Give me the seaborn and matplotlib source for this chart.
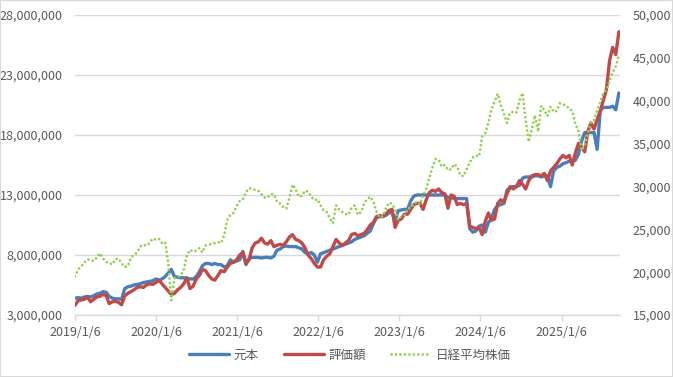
import numpy as np
import pandas as pd
import seaborn as sns
import matplotlib.pyplot as plt
from matplotlib.lines import Line2D
from matplotlib.patches import Rectangle

# 隔週データ (2019/1/6 から 14日おき)
# 元本・評価額は百万円単位
principal = [4.4, 4.45, 4.4, 4.5, 4.55, 4.5, 4.6, 4.75, 4.8, 4.95, 4.9, 4.55, 4.4, 4.35, 4.35, 4.3, 5.2, 5.35, 5.4, 5.5, 5.55, 5.6, 5.7, 5.75, 5.8, 5.85,
             6.0, 5.9, 6.0, 6.2, 6.5, 6.8, 6.2, 6.15, 6.1, 6.1, 6.05, 6.0, 6.0, 6.2, 6.6, 7.1, 7.3, 7.3, 7.2, 7.3, 7.2, 7.2, 7.0, 7.1, 7.6, 7.4,
             7.5, 7.6, 8.3, 7.2, 7.7, 7.8, 7.8, 7.8, 7.75, 7.8, 7.8, 7.75, 7.9, 8.4, 8.5, 8.7, 8.75, 8.7, 8.7, 8.7, 8.6, 8.5, 8.2, 8.1, 8.2, 8.0,
             7.4, 8.1, 8.2, 8.3, 8.4, 8.5, 8.6, 8.7, 8.8, 8.9, 9.0, 9.1, 9.3, 9.4, 9.5, 9.6, 9.8, 10.0, 10.6, 11.1, 11.2, 11.2, 11.3, 11.5, 11.6, 10.8,
             11.7, 11.75, 11.8, 11.8, 12.5, 12.9, 13.0, 13.0, 13.0, 13.0, 13.0, 13.0, 13.0, 13.0, 13.0, 13.0, 12.8, 12.8, 12.7, 12.7, 12.7, 12.7, 12.7, 10.2, 9.9, 10.0,
             10.4, 10.5, 9.9, 10.7, 11.0, 11.8, 12.1, 12.2, 12.3, 13.4, 13.6, 13.7, 13.7, 13.8, 14.4, 14.5, 14.5, 14.5, 14.6, 14.6, 14.5, 14.6, 14.6, 13.7, 15.0, 15.3,
             15.4, 15.6, 15.7, 15.8, 15.8, 15.9, 16.4, 17.5, 18.2, 18.2, 18.2, 18.2, 16.8, 20.0, 20.3, 20.3, 20.3, 20.4, 20.1, 21.5]

valuation = [3.8, 4.2, 4.25, 4.3, 4.5, 4.1, 4.3, 4.5, 4.55, 4.7, 4.65, 3.95, 4.1, 4.15, 4.05, 3.85, 4.6, 4.8, 4.95, 5.1, 5.3, 5.35, 5.3, 5.5, 5.6, 5.55,
             5.7, 5.9, 5.6, 5.3, 5.0, 4.7, 4.8, 5.1, 5.3, 5.6, 6.1, 5.2, 5.4, 6.0, 6.3, 6.8, 6.7, 6.3, 6.0, 5.9, 6.3, 6.7, 6.6, 7.0, 7.3, 7.4,
             7.6, 8.0, 8.2, 7.3, 7.6, 8.6, 9.0, 9.1, 9.4, 9.0, 8.9, 9.2, 8.7, 8.8, 8.9, 8.8, 9.1, 9.5, 9.7, 9.3, 9.2, 9.0, 8.6, 8.0, 7.7, 7.3,
             7.0, 7.0, 7.6, 7.9, 8.1, 8.7, 9.3, 9.0, 8.8, 9.0, 9.2, 9.7, 9.8, 9.6, 9.7, 9.8, 10.1, 10.5, 10.7, 11.2, 11.3, 11.2, 11.4, 11.7, 11.8, 10.3,
             10.9, 11.0, 11.4, 11.4, 11.8, 12.2, 12.3, 12.3, 11.8, 12.6, 13.2, 13.4, 13.3, 13.5, 13.2, 13.1, 11.9, 13.0, 12.9, 12.2, 12.3, 12.2, 12.3, 10.4, 10.3, 10.2,
             10.3, 9.7, 10.8, 11.5, 10.9, 11.0, 12.3, 12.6, 12.4, 13.1, 13.7, 13.5, 13.7, 14.2, 13.9, 13.5, 14.2, 14.6, 14.7, 14.7, 14.6, 14.8, 14.2, 15.0, 15.3, 15.6,
             16.0, 16.3, 16.1, 16.3, 15.5, 16.5, 17.3, 17.0, 16.6, 18.3, 19.0, 18.5, 19.3, 20.0, 20.9, 21.8, 24.2, 25.3, 24.7, 26.6]

nikkei = [19500, 20300, 20700, 21100, 21500, 21400, 21300, 21700, 22200, 21600, 21200, 21100, 20900, 21500, 21600, 21000, 20600, 20700, 21700, 22000, 22300, 23000, 23200, 23100, 23400, 23900,
          23800, 23900, 23400, 23500, 21100, 16700, 19300, 19400, 19600, 20300, 22000, 22600, 22400, 22500, 22800, 22300, 23100, 23200, 23300, 23400, 23500, 23400, 24300, 26100, 26700, 26900,
          27700, 28300, 28500, 29300, 29800, 29700, 29600, 29500, 29100, 28700, 28700, 29100, 29100, 28200, 28000, 27600, 27400, 28700, 30200, 29700, 28800, 28900, 29500, 29400, 28800, 28400,
          28500, 27800, 27200, 27000, 26300, 25700, 27800, 27300, 27000, 26800, 26700, 27500, 27800, 26700, 27000, 28000, 28500, 28800, 28200, 27100, 26400, 26500, 27400, 28100, 28000, 27300,
          26100, 26500, 26600, 27400, 27500, 28000, 28200, 27900, 29000, 29700, 31000, 32200, 33200, 33100, 32300, 32500, 31900, 32000, 32600, 32300, 31300, 31200, 32000, 32800, 33400, 33600,
          33500, 35800, 36200, 37400, 39000, 39900, 40800, 39500, 38500, 37400, 38600, 38700, 38600, 40000, 40900, 37800, 35200, 36700, 38300, 36400, 39400, 38900, 38200, 39300, 38700, 38800,
          39700, 39600, 39400, 39100, 38800, 37300, 36500, 34200, 34800, 36200, 37500, 37700, 38900, 39800, 40900, 41300, 42300, 43300, 44000, 45300]

tick_labels = ["2019/1/6", "2020/1/6", "2021/1/6", "2022/1/6", "2023/1/6", "2024/1/6", "2025/1/6"]
series_names = ["元本", "評価額", "日経平均株価"]

dates = pd.date_range("2019-01-06", periods=len(principal), freq="14D")
df = pd.DataFrame({
    "date": dates,
    "元本": np.array(principal) * 1e6,
    "評価額": np.array(valuation) * 1e6,
    "日経平均株価": nikkei,
})

sns.set_theme(style="white")
plt.rcParams["font.family"] = ["Noto Sans CJK JP", "DejaVu Sans"]

blue = "#4A7EBB"
red = "#BE4B48"
green = "#92D050"
grey_txt = "#595959"
grid_c = "#D9D9D9"
dot_style = (0, (0.01, 1.6))

fig = plt.figure(figsize=(6.73, 3.77), dpi=100)
ax = fig.add_axes([75 / 673, 1 - 315 / 377, 545 / 673, 300 / 377])
ax2 = ax.twinx()

sns.lineplot(data=df, x="date", y="元本", ax=ax, color=blue, linewidth=2.4)
sns.lineplot(data=df, x="date", y="評価額", ax=ax, color=red, linewidth=2.4)
sns.lineplot(data=df, x="date", y="日経平均株価", ax=ax2, color=green, linewidth=2.0,
             linestyle=dot_style, dash_capstyle="round")

ax.set_ylim(3e6, 28e6)
ax.set_yticks(np.arange(3e6, 28e6 + 1, 5e6))
ax.set_yticklabels([f"{int(v):,}" for v in np.arange(3e6, 28e6 + 1, 5e6)])
ax2.set_ylim(15000, 50000)
ax2.set_yticks(np.arange(15000, 50001, 5000))
ax2.set_yticklabels([f"{v:,}" for v in range(15000, 50001, 5000)])

ticks = pd.to_datetime([t.replace("/", "-") for t in tick_labels])
ax.set_xlim(dates[0], dates[-1] + pd.Timedelta(days=5))
ax.set_xticks(ticks)
ax.set_xticklabels(tick_labels)

for a in (ax, ax2):
    a.set_xlabel("")
    a.set_ylabel("")
    for s in a.spines.values():
        s.set_visible(False)
    a.tick_params(axis="y", length=0, labelsize=9, labelcolor=grey_txt, pad=9)
ax.spines["bottom"].set_visible(True)
ax.spines["bottom"].set_color(grid_c)
ax.spines["bottom"].set_linewidth(1)
ax.tick_params(axis="x", length=4, width=1, color=grid_c, labelsize=9, labelcolor=grey_txt, pad=4, bottom=True)
ax.grid(axis="y", color=grid_c, linewidth=1)
ax.grid(axis="x", visible=False)
ax2.grid(False)
ax.set_axisbelow(True)

handles = [
    Line2D([], [], color=blue, linewidth=2.4),
    Line2D([], [], color=red, linewidth=2.4),
    Line2D([], [], color=green, linewidth=2.0, linestyle=dot_style, dash_capstyle="round"),
]
fig.legend(handles, series_names, loc="center", bbox_to_anchor=(0.52, 1 - 355 / 377), ncol=3,
           frameon=False, fontsize=9, labelcolor=grey_txt, handlelength=3.2, columnspacing=2.0,
           handletextpad=0.4)

fig.add_artist(Rectangle((0, 0), 1, 1, transform=fig.transFigure, fill=False,
                         edgecolor=grid_c, linewidth=1.5))

fig.savefig("out.png", dpi=100)
